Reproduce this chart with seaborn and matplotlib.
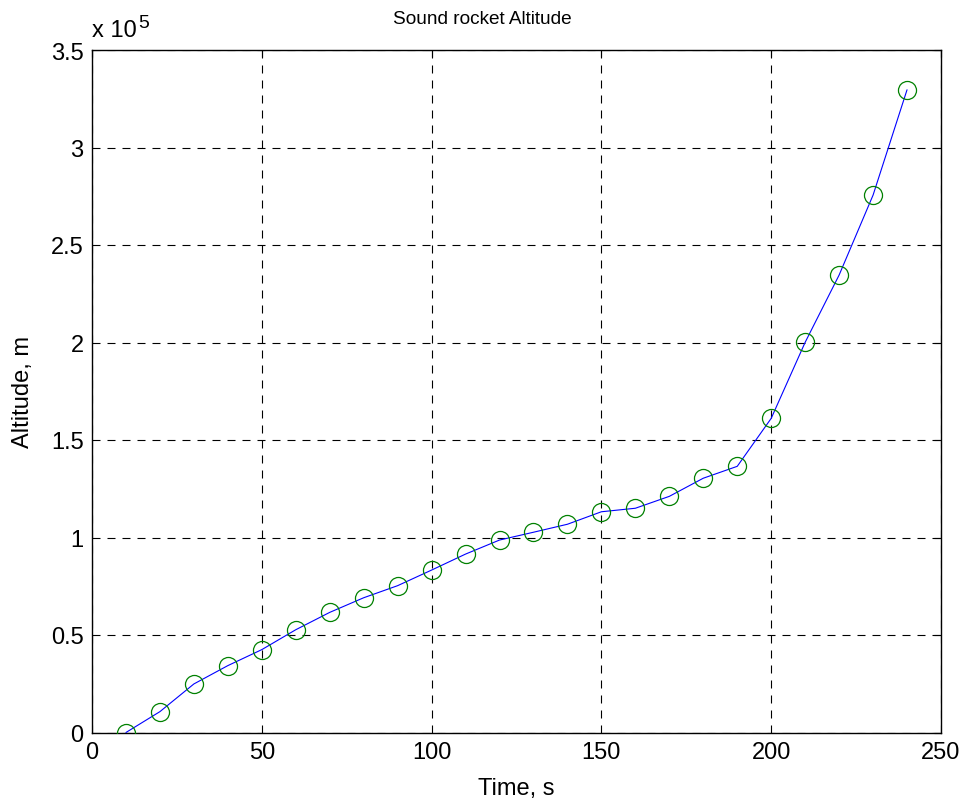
import matplotlib
matplotlib.use("Agg")
import matplotlib.pyplot as plt
import seaborn as sns
import pandas as pd

# Sounding rocket altitude samples
time_s = [10, 20, 30, 40, 50, 60, 70, 80, 90, 100, 110, 120,
          130, 140, 150, 160, 170, 180, 190, 200, 210, 220, 230, 240]
altitude_m = [0, 10700, 24900, 34300, 42500, 52700, 61600, 69100, 75300,
              83300, 91500, 98700, 102700, 106800, 113200, 115000, 121100,
              130400, 136500, 161100, 200100, 234600, 275600, 329600]

x_ticks = [0, 50, 100, 150, 200, 250]
y_ticks = [0, 50000, 100000, 150000, 200000, 250000, 300000, 350000]
y_tick_labels = ["0", "0.5", "1", "1.5", "2", "2.5", "3", "3.5"]

df = pd.DataFrame({"Time": time_s, "Altitude": altitude_m})

sns.set_style("white")
plt.rcParams["font.family"] = ["Liberation Sans", "DejaVu Sans"]
plt.rcParams["text.color"] = "black"
plt.rcParams["axes.labelcolor"] = "black"

W, H = 965, 803
fig = plt.figure(figsize=(W / 100, H / 100), dpi=100)
ax = fig.add_axes([92 / W, 69.5 / H, 849 / W, 682.5 / H])

sns.lineplot(data=df, x="Time", y="Altitude", ax=ax, color="#0000ff",
             linewidth=0.8, zorder=3)
sns.lineplot(data=df, x="Time", y="Altitude", ax=ax, color="none",
             linestyle="none", marker="o", markersize=13,
             markerfacecolor="none", markeredgecolor="#008000",
             markeredgewidth=0.9, zorder=4)

ax.set_xlim(0, 250)
ax.set_ylim(0, 350000)
ax.set_xticks(x_ticks)
ax.set_xticklabels([str(t) for t in x_ticks])
ax.set_yticks(y_ticks)
ax.set_yticklabels(y_tick_labels)

ax.grid(True, color="black", linestyle=(0, (7.2, 6.3)), linewidth=0.8)
ax.set_axisbelow(False)
for sp in ax.spines.values():
    sp.set_visible(True)
    sp.set_color("black")
    sp.set_linewidth(1.0)

ax.tick_params(direction="in", length=5, width=0.8, colors="black",
               labelsize=17, top=True, right=True, pad=6)

ax.set_xlabel("Time, s", fontsize=17, labelpad=10, color="black")
ax.set_ylabel("Altitude, m", fontsize=17, labelpad=12, color="black")

fig.text(482 / W, 1 - 20 / H, "Sound rocket Altitude", fontsize=13.7,
         ha="center", va="center", color="black")

# exponent shown above the y axis
fig.text(92 / W, 1 - 37 / H, "x 10", fontsize=17, ha="left",
         va="baseline", color="black")
fig.text(138 / W, 1 - 28 / H, "5", fontsize=14, ha="left",
         va="baseline", color="black")

fig.savefig("out.png", dpi=100)
